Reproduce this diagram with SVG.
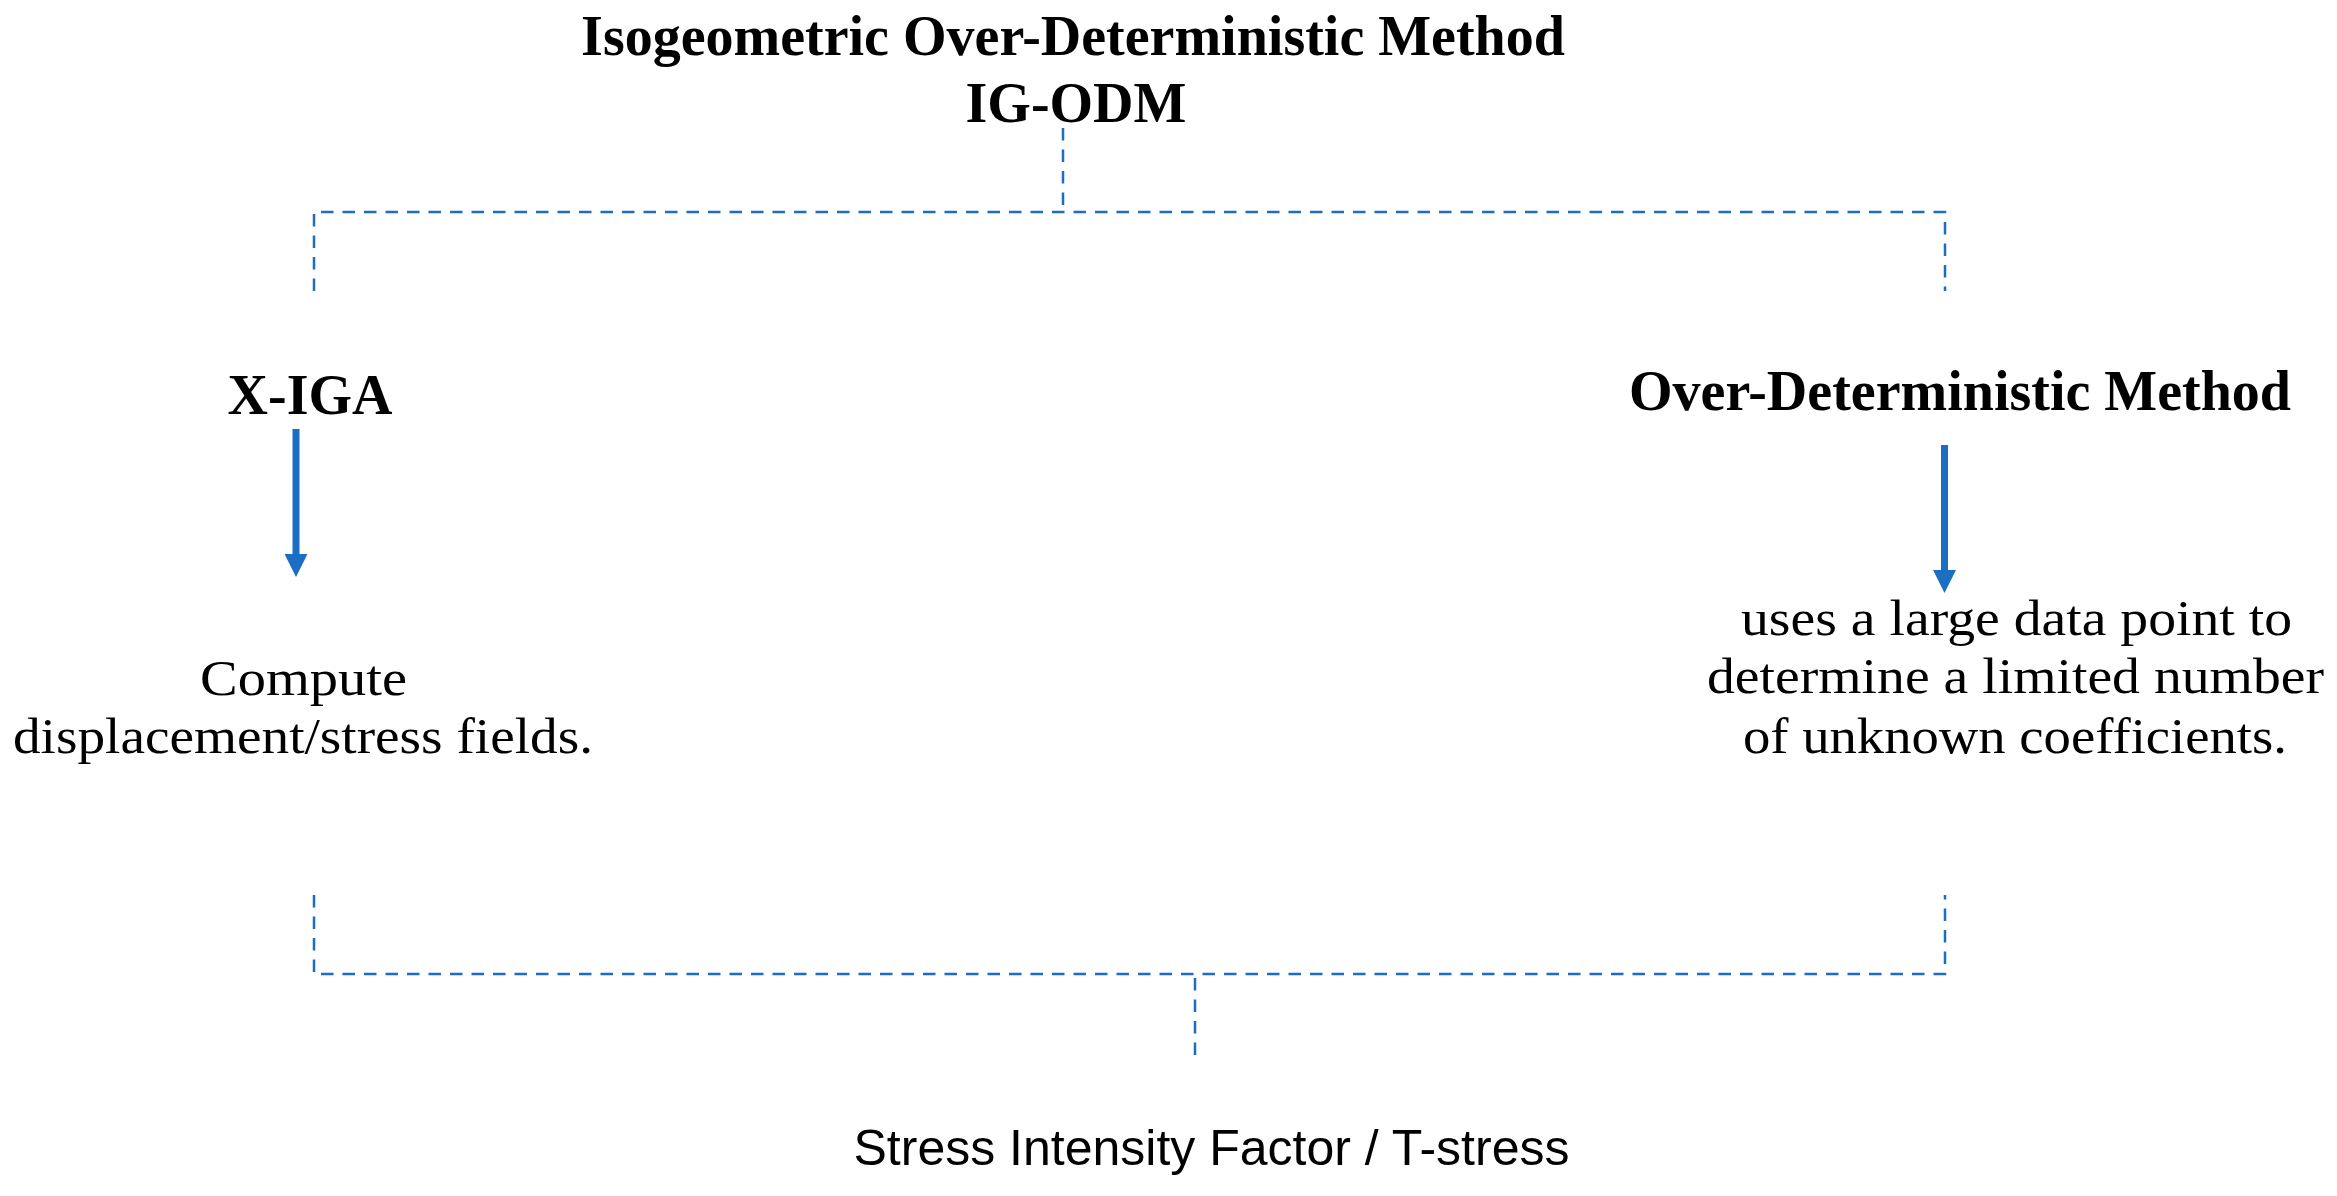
<svg xmlns="http://www.w3.org/2000/svg" width="2337" height="1196" viewBox="0 0 2337 1196">
<style>
.bold{font-family:"Liberation Serif","Times New Roman",serif;font-weight:bold;font-size:56px;fill:#000;text-anchor:middle}
.body{font-family:"Liberation Serif","Times New Roman",serif;font-size:50px;fill:#000;text-anchor:middle}
.sans{font-family:"Liberation Sans",Arial,sans-serif;font-size:50px;fill:#000;text-anchor:middle}
.dash{fill:none;stroke:#1B6EC2;stroke-width:2.5;stroke-dasharray:12.5 9}
.arrow{fill:none;stroke:#1B6EC2;stroke-width:7;marker-end:url(#ah)}
</style>
<defs>
<marker id="ah" markerUnits="userSpaceOnUse" markerWidth="23" markerHeight="23" refX="2" refY="11.5" orient="auto" viewBox="0 0 23 23">
<path d="M0,0 L23,11.5 L0,23 Z" fill="#1B6EC2"/>
</marker>
</defs>
<rect width="2337" height="1196" fill="#fff"/>
<g id="connectors">
<line class="dash" x1="1063" y1="128" x2="1063" y2="208"/>
<polyline class="dash" points="314,291 314,212 1945,212 1945,291"/>
<polyline class="dash" points="314,895 314,974 1945,974 1945,895"/>
<line class="dash" x1="1195" y1="978" x2="1195" y2="1058"/>
<line id="arrow-left" class="arrow" x1="296" y1="429" x2="296" y2="556"/>
<line id="arrow-right" class="arrow" x1="1944.5" y1="445" x2="1944.5" y2="572"/>
</g>
<g id="title">
<text class="bold" x="1073" y="55">Isogeometric Over-Deterministic Method</text>
<text class="bold" x="1076" y="122">IG-ODM</text>
</g>
<g id="xiga">
<text class="bold" x="310" y="414">X-IGA</text>
</g>
<g id="odm">
<text class="bold" x="1960" y="410">Over-Deterministic Method</text>
</g>
<g id="xiga-desc">
<text class="body" x="303.5" y="695" textLength="207" lengthAdjust="spacingAndGlyphs">Compute</text>
<text class="body" x="303" y="753" textLength="580" lengthAdjust="spacingAndGlyphs">displacement/stress fields.</text>
</g>
<g id="odm-desc">
<text class="body" x="2016.5" y="635" textLength="551" lengthAdjust="spacingAndGlyphs">uses a large data point to</text>
<text class="body" x="2015.5" y="693" textLength="617" lengthAdjust="spacingAndGlyphs">determine a limited number</text>
<text class="body" x="2015" y="753" textLength="544" lengthAdjust="spacingAndGlyphs">of unknown coefficients.</text>
</g>
<g id="result">
<text class="sans" x="1211.5" y="1165">Stress Intensity Factor / T-stress</text>
</g>
</svg>
